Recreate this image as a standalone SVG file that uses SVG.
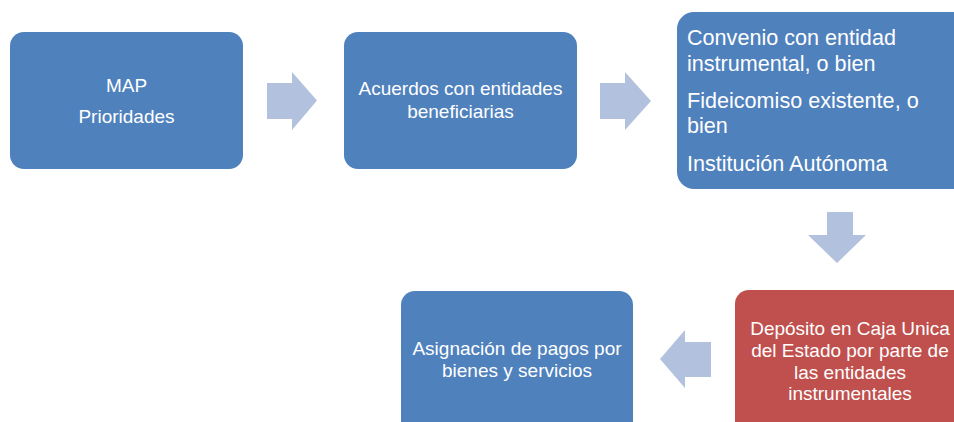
<svg xmlns="http://www.w3.org/2000/svg" width="954" height="422" viewBox="0 0 954 422">
<style>
.box{fill:#4F81BD}
.red{fill:#C0504D}
.arr{fill:#B2C1DD}
text{font-family:"Liberation Sans",Arial,sans-serif;fill:#FFFFFF;font-size:19px}
.c{text-anchor:middle}
.big{font-size:21.6px}
</style>
<rect width="954" height="422" fill="#FFFFFF"/>
<g id="connectors">
<polygon class="arr" points="267,83 292,83 292,72 317,100.5 292,130 292,119 267,119"/>
<polygon class="arr" points="600,83 625,83 625,72 651,101 625,130 625,119 600,119"/>
<polygon class="arr" points="827,212 853,212 853,235 866,235 837,263 808,235 827,235"/>
<polygon class="arr" points="711,342 685,342 685,330 660,359 685,388 685,377 711,377"/>
</g>
<g id="node-map">
<rect class="box" x="10" y="32" width="233" height="137" rx="14"/>
<text class="c" x="126.5" y="92">MAP</text>
<text class="c" x="126.5" y="123">Prioridades</text>
</g>
<g id="node-acuerdos">
<rect class="box" x="344" y="32" width="233" height="137" rx="14"/>
<text class="c" x="460.5" y="95">Acuerdos con entidades</text>
<text class="c" x="460.5" y="118">beneficiarias</text>
</g>
<g id="node-convenio">
<rect class="box" x="677" y="12" width="310" height="177" rx="17"/>
<text class="big" x="687" y="45">Convenio con entidad</text>
<text class="big" x="687" y="71">instrumental, o bien</text>
<text class="big" x="687" y="108">Fideicomiso existente, o</text>
<text class="big" x="687" y="133">bien</text>
<text class="big" x="687" y="171">Institución Autónoma</text>
</g>
<g id="node-deposito">
<rect class="red" x="735" y="290" width="233" height="145" rx="14"/>
<text class="c" x="850" y="335">Depósito en Caja Unica</text>
<text class="c" x="850" y="357">del Estado por parte de</text>
<text class="c" x="850" y="379">las entidades</text>
<text class="c" x="850" y="400">instrumentales</text>
</g>
<g id="node-asignacion">
<rect class="box" x="401" y="291" width="232" height="145" rx="14"/>
<text class="c" x="517" y="355">Asignación de pagos por</text>
<text class="c" x="517" y="377">bienes y servicios</text>
</g>
</svg>
